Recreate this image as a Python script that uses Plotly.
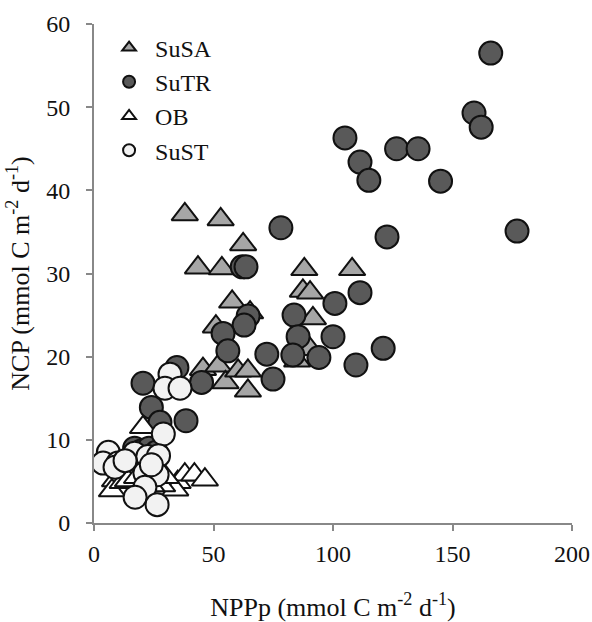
import plotly.graph_objects as go

# SuSA (grey triangles)
susa_x = [38, 53, 62.4, 43.5, 53.5, 88, 108, 87.4, 90.4, 57.8, 65.3, 91.6, 51, 90.4, 85, 45.6, 52, 55, 60.3, 64.4, 64.4]
susa_y = [37.1, 36.5, 33.5, 30.7, 30.6, 30.5, 30.5, 27.9, 27.7, 26.6, 25.3, 24.6, 23.6, 20.9, 19.5, 18.5, 18.9, 16.9, 18.3, 18.3, 15.9]

# SuTR (dark circles)
sutr_x = [105, 111.3, 115, 126.6, 135.6, 145, 122.6, 159, 162, 166, 177, 78.2,
          62, 63.6, 111.3, 100.8, 64.5, 62.8, 83.7, 54, 85.4, 100, 56, 72.3, 83.2, 94.1, 121, 109.6, 74.9, 45,
          34.7, 20.5, 24, 38.5, 27.6, 17, 20, 23, 26]
sutr_y = [46.3, 43.4, 41.2, 45, 45, 41.1, 34.4, 49.3, 47.6, 56.5, 35.1, 35.5,
          30.8, 30.8, 27.7, 26.4, 24.9, 23.8, 25, 22.8, 22.4, 22.4, 20.7, 20.3, 20.2, 19.9, 21, 19, 17.3, 16.9,
          18.7, 16.8, 13.9, 12.3, 12.1, 9, 8.7, 9, 8.5]

# OB (white triangles)
ob_x = [20.5, 8.8, 7.5, 12, 14.2, 35, 38, 42, 46.4, 34, 28.5, 18, 24, 30]
ob_y = [11.5, 5.1, 3.9, 4.9, 5.1, 4.9, 5.8, 5.8, 5.2, 4.0, 4.5, 5.5, 4.5, 5.5]

# SuST (light circles)
sust_x = [31.8, 29.7, 36, 29, 6, 3.8, 10, 8.8, 17, 22.5, 27, 21.3, 26.4, 21.3, 17.2, 26.4, 13, 24]
sust_y = [17.9, 16.2, 16.2, 10.7, 8.5, 7.2, 7.2, 6.7, 8.4, 8.0, 8.1, 6.0, 5.8, 4.3, 3.1, 2.2, 7.5, 7.0]

x_ticks = [0, 50, 100, 150, 200]
y_ticks = [0, 10, 20, 30, 40, 50, 60]

FONT = "Liberation Serif, Times New Roman, serif"

fig = go.Figure()
series = [
    ("SuSA", susa_x, susa_y, "triangle-up", "#a6a6a6"),
    ("SuTR", sutr_x, sutr_y, "circle", "#595959"),
    ("OB", ob_x, ob_y, "triangle-up", "#ffffff"),
    ("SuST", sust_x, sust_y, "circle", "#f2f2f2"),
]
for name, xs, ys, sym, col in series:
    fig.add_trace(go.Scatter(
        x=xs, y=ys, mode="markers", name=name,
        marker=dict(symbol=sym, size=23, color=col, line=dict(color="#111111", width=2)),
    ))

axis_common = dict(
    showline=True, linecolor="#888888", linewidth=2,
    ticks="outside", tickcolor="#888888", ticklen=6, tickwidth=2,
    showgrid=False, zeroline=False, automargin=False,
    tickfont=dict(family=FONT, size=24, color="#111111"),
)

fig.update_layout(
    width=592, height=622,
    margin=dict(l=94, r=20, t=24, b=99),
    plot_bgcolor="white", paper_bgcolor="white",
    font=dict(family=FONT, size=25, color="#111111"),
    xaxis=dict(range=[0, 200], tickvals=x_ticks, ticklabelstandoff=2,
               title=dict(text="NPPp (mmol C m<sup>-2</sup> d<sup>-1</sup>)", standoff=32,
                          font=dict(family=FONT, size=26)),
               **axis_common),
    yaxis=dict(range=[0, 60], tickvals=y_ticks, ticklabelstandoff=11,
               title=dict(text="NCP (mmol C m<sup>-2</sup> d<sup>-1</sup>)", standoff=9,
                          font=dict(family=FONT, size=26)),
               **axis_common),
    legend=dict(x=0.019, y=0.997, xanchor="left", yanchor="top",
                bgcolor="rgba(0,0,0,0)", font=dict(family=FONT, size=24),
                itemsizing="constant", itemwidth=42, tracegroupgap=0),
    showlegend=True,
)

fig.write_html(
    "out.html",
    config={"displayModeBar": False},
    post_script="document.body.style.margin='0';document.body.style.overflow='hidden';",
)
